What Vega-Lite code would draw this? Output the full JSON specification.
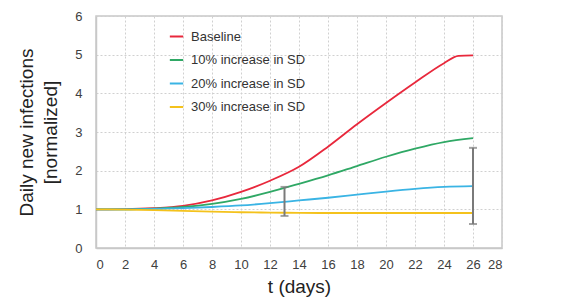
{
  "$schema": "https://vega.github.io/schema/vega-lite/v6.json",
  "width": 406,
  "height": 232,
  "autosize": {"type": "none"},
  "padding": {"left": 96, "top": 16, "right": 61, "bottom": 60},
  "background": "white",
  "config": {
    "font": "Liberation Sans",
    "view": {"stroke": "#c8c8c8", "strokeWidth": 1.5},
    "axis": {
      "labelFont": "Liberation Sans",
      "labelFontSize": 13,
      "labelColor": "#404040",
      "titleFont": "Liberation Sans",
      "titleFontSize": 19,
      "titleFontWeight": "normal",
      "titleColor": "#222222",
      "gridColor": "#d0d0d0",
      "gridDash": [2, 2],
      "gridWidth": 1,
      "domainColor": "#c8c8c8",
      "domainWidth": 1.5,
      "ticks": false
    }
  },
  "datasets": {
    "lines": [
      {"t": 0, "v": 1.0, "s": "Baseline"},
      {"t": 2, "v": 1.005, "s": "Baseline"},
      {"t": 4, "v": 1.03, "s": "Baseline"},
      {"t": 6, "v": 1.09, "s": "Baseline"},
      {"t": 8, "v": 1.23, "s": "Baseline"},
      {"t": 10, "v": 1.45, "s": "Baseline"},
      {"t": 12, "v": 1.74, "s": "Baseline"},
      {"t": 14, "v": 2.1, "s": "Baseline"},
      {"t": 16, "v": 2.62, "s": "Baseline"},
      {"t": 18, "v": 3.2, "s": "Baseline"},
      {"t": 20, "v": 3.75, "s": "Baseline"},
      {"t": 22, "v": 4.28, "s": "Baseline"},
      {"t": 24, "v": 4.78, "s": "Baseline"},
      {"t": 25, "v": 4.97, "s": "Baseline"},
      {"t": 26, "v": 4.98, "s": "Baseline"},
      {"t": 0, "v": 1.0, "s": "10% increase in SD"},
      {"t": 2, "v": 1.0, "s": "10% increase in SD"},
      {"t": 4, "v": 1.02, "s": "10% increase in SD"},
      {"t": 6, "v": 1.06, "s": "10% increase in SD"},
      {"t": 8, "v": 1.14, "s": "10% increase in SD"},
      {"t": 10, "v": 1.27, "s": "10% increase in SD"},
      {"t": 12, "v": 1.45, "s": "10% increase in SD"},
      {"t": 14, "v": 1.66, "s": "10% increase in SD"},
      {"t": 16, "v": 1.88, "s": "10% increase in SD"},
      {"t": 18, "v": 2.12, "s": "10% increase in SD"},
      {"t": 20, "v": 2.36, "s": "10% increase in SD"},
      {"t": 22, "v": 2.57, "s": "10% increase in SD"},
      {"t": 24, "v": 2.74, "s": "10% increase in SD"},
      {"t": 26, "v": 2.84, "s": "10% increase in SD"},
      {"t": 0, "v": 1.0, "s": "20% increase in SD"},
      {"t": 2, "v": 1.0, "s": "20% increase in SD"},
      {"t": 4, "v": 1.01, "s": "20% increase in SD"},
      {"t": 6, "v": 1.03, "s": "20% increase in SD"},
      {"t": 8, "v": 1.06, "s": "20% increase in SD"},
      {"t": 10, "v": 1.1, "s": "20% increase in SD"},
      {"t": 12, "v": 1.16, "s": "20% increase in SD"},
      {"t": 14, "v": 1.23, "s": "20% increase in SD"},
      {"t": 16, "v": 1.3, "s": "20% increase in SD"},
      {"t": 18, "v": 1.38, "s": "20% increase in SD"},
      {"t": 20, "v": 1.46, "s": "20% increase in SD"},
      {"t": 22, "v": 1.53, "s": "20% increase in SD"},
      {"t": 24, "v": 1.58, "s": "20% increase in SD"},
      {"t": 26, "v": 1.6, "s": "20% increase in SD"},
      {"t": 0, "v": 1.0, "s": "30% increase in SD"},
      {"t": 2, "v": 0.995, "s": "30% increase in SD"},
      {"t": 4, "v": 0.98, "s": "30% increase in SD"},
      {"t": 6, "v": 0.96, "s": "30% increase in SD"},
      {"t": 8, "v": 0.94, "s": "30% increase in SD"},
      {"t": 10, "v": 0.925, "s": "30% increase in SD"},
      {"t": 12, "v": 0.915, "s": "30% increase in SD"},
      {"t": 14, "v": 0.91, "s": "30% increase in SD"},
      {"t": 16, "v": 0.905, "s": "30% increase in SD"},
      {"t": 18, "v": 0.905, "s": "30% increase in SD"},
      {"t": 20, "v": 0.905, "s": "30% increase in SD"},
      {"t": 22, "v": 0.905, "s": "30% increase in SD"},
      {"t": 24, "v": 0.905, "s": "30% increase in SD"},
      {"t": 26, "v": 0.905, "s": "30% increase in SD"}
    ],
    "errs": [
      {"t": 13, "lo": 0.83, "hi": 1.58},
      {"t": 26, "lo": 0.62, "hi": 2.59}
    ]
  },
  "layer": [
    {
      "data": {"name": "lines"},
      "mark": {"type": "line", "interpolate": "monotone", "strokeWidth": 1.8},
      "encoding": {
        "x": {
          "field": "t", "type": "quantitative",
          "scale": {"domain": [0, 28], "nice": false},
          "axis": {"values": [0,2,4,6,8,10,12,14,16,18,20,22,24,26,28], "title": "t (days)", "labelPadding": 10, "titlePadding": 6}
        },
        "y": {
          "field": "v", "type": "quantitative",
          "scale": {"domain": [0, 6], "nice": false},
          "axis": {"values": [0,1,2,3,4,5,6], "title": ["Daily new infections", "[normalized]"], "titleLineHeight": 24, "labelPadding": 14, "titlePadding": 14}
        },
        "color": {
          "field": "s", "type": "nominal",
          "scale": {
            "domain": ["Baseline", "10% increase in SD", "20% increase in SD", "30% increase in SD"],
            "range": ["#e8283c", "#2fa865", "#3ab4e4", "#f4c21c"]
          },
          "legend": {
            "title": null,
            "orient": "none",
            "legendX": 68,
            "legendY": 8,
            "symbolType": "M-0.58,0H0.58",
            "symbolSize": 529,
            "symbolStrokeWidth": 2,
            "labelFont": "Liberation Sans",
            "labelFontSize": 13,
            "labelColor": "#333333",
            "rowPadding": 3.5,
            "labelOffset": 2
          }
        }
      }
    },
    {
      "data": {"name": "errs"},
      "mark": {"type": "errorbar", "ticks": {"size": 8, "color": "#7a7a7a", "thickness": 2}, "rule": {"color": "#7a7a7a", "strokeWidth": 2}},
      "encoding": {
        "x": {
          "field": "t", "type": "quantitative",
          "scale": {"domain": [0, 28], "nice": false},
          "axis": {"values": [0,2,4,6,8,10,12,14,16,18,20,22,24,26,28], "title": "t (days)", "labelPadding": 10, "titlePadding": 6}
        },
        "y": {
          "field": "lo", "type": "quantitative",
          "scale": {"domain": [0, 6], "nice": false},
          "axis": {"values": [0,1,2,3,4,5,6], "title": ["Daily new infections", "[normalized]"], "titleLineHeight": 24, "labelPadding": 14, "titlePadding": 14}
        },
        "y2": {"field": "hi"}
      }
    }
  ]
}
